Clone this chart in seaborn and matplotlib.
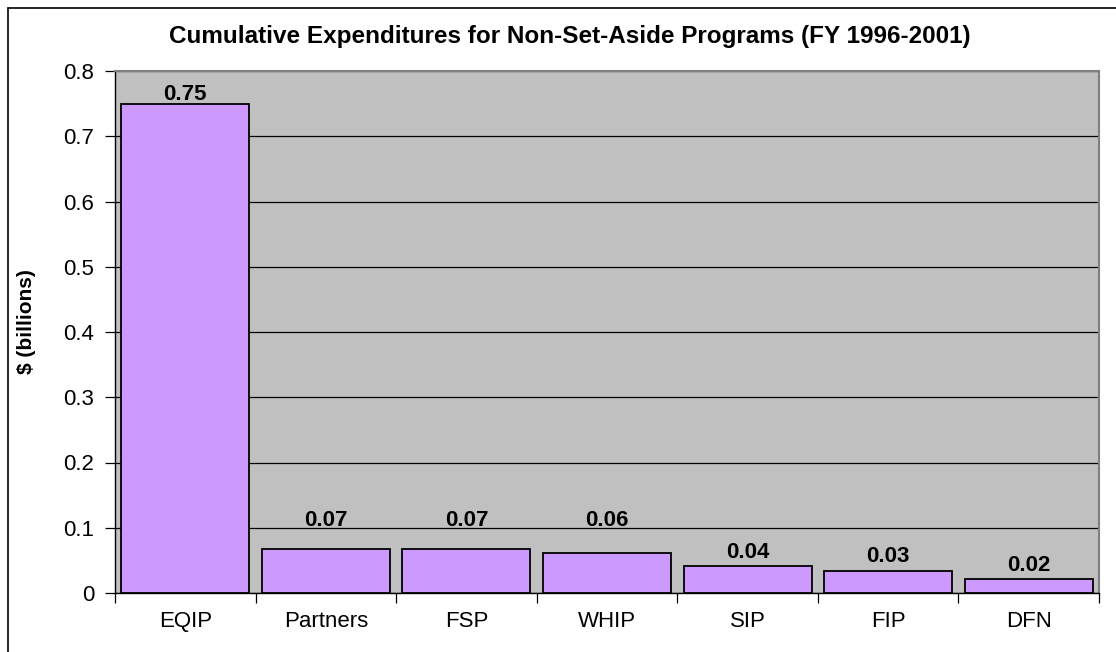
import matplotlib
matplotlib.use("Agg")
import matplotlib.pyplot as plt
import seaborn as sns
import pandas as pd
import numpy as np
from matplotlib.lines import Line2D

categories = ["EQIP", "Partners", "FSP", "WHIP", "SIP", "FIP", "DFN"]
values = [0.75, 0.068, 0.068, 0.062, 0.041, 0.034, 0.021]
labels = ["0.75", "0.07", "0.07", "0.06", "0.04", "0.03", "0.02"]
yticks = [0, 0.1, 0.2, 0.3, 0.4, 0.5, 0.6, 0.7, 0.8]
ytick_labels = ["0", "0.1", "0.2", "0.3", "0.4", "0.5", "0.6", "0.7", "0.8"]
title = "Cumulative Expenditures for Non-Set-Aside Programs (FY 1996-2001)"
ylabel = "$ (billions)"

df = pd.DataFrame({"program": categories, "value": values})

sns.set_style("white")
plt.rcParams["font.family"] = ["Liberation Sans", "DejaVu Sans"]
plt.rcParams.update({"text.color": "black", "axes.labelcolor": "black",
                     "xtick.color": "black", "ytick.color": "black"})

W, H = 1116, 652
fig = plt.figure(figsize=(W / 100, H / 100), dpi=100)
ax = fig.add_axes([115 / W, 1 - 593 / H, (1099 - 115) / W, (593 - 71) / H])
ax.set_facecolor("#C0C0C0")

sns.barplot(data=df, x="program", y="value", ax=ax, color="#CC99FF",
            saturation=1, width=0.91, edgecolor="black", linewidth=1.3, zorder=3)

ax.set_ylim(0, 0.8)
ax.set_xlim(-0.5, len(categories) - 0.5)
ax.set_yticks(yticks)
ax.set_yticklabels(ytick_labels, fontsize=16, color="black")
ax.yaxis.grid(True, color="black", linewidth=0.9, zorder=1)
ax.set_axisbelow(True)

# category ticks at boundaries
ax.set_xticks(np.arange(len(categories)))
ax.set_xticklabels(categories, fontsize=16, color="black")
ax.set_xticks(np.arange(len(categories) + 1) - 0.5, minor=True)
ax.tick_params(axis="both", which="both", bottom=True, left=True)
ax.tick_params(axis="x", which="major", length=0, pad=13)
ax.tick_params(axis="x", which="minor", length=7, width=0.9, color="black", direction="out")
ax.tick_params(axis="y", which="major", length=7, width=0.9, color="black", direction="out", pad=8)

ax.set_xlabel("")
ax.set_ylabel(ylabel, fontsize=15, fontweight="bold", color="black")
ax.yaxis.label.set(va="center", rotation_mode="anchor")
ax.yaxis.set_label_coords((26 - 115) / 984, (593 - 322) / 522)

for side in ["left", "bottom"]:
    ax.spines[side].set_color("black")
    ax.spines[side].set_linewidth(1.0)
for side in ["top", "right"]:
    ax.spines[side].set_color("#808080")
    ax.spines[side].set_linewidth(1.5)

# data labels: baseline above bar top, lifted above a gridline if it would cross it
gap, cap = 0.013, 0.027
for i, (v, lab) in enumerate(zip(values, labels)):
    base = v + gap
    for g in yticks[1:]:
        if v < g < base + cap and g + cap < 0.8:
            base = g + 0.003
    if base + cap > 0.785:
        base = v + 0.006
    ax.text(i, base, lab, ha="center", va="baseline", fontsize=16,
            fontweight="bold", color="black", zorder=5)

fig.text(570 / W, 1 - 43 / H, title, ha="center", va="baseline",
         fontsize=17.5, fontweight="bold", color="black")

# outer chart border (left and top visible)
fig.add_artist(Line2D([7.5 / W, 7.5 / W], [0, 1 - 7.5 / H], color="black", linewidth=1.2))
fig.add_artist(Line2D([7.5 / W, 1], [1 - 7.5 / H, 1 - 7.5 / H], color="black", linewidth=1.2))

fig.savefig("out.png", dpi=100)
